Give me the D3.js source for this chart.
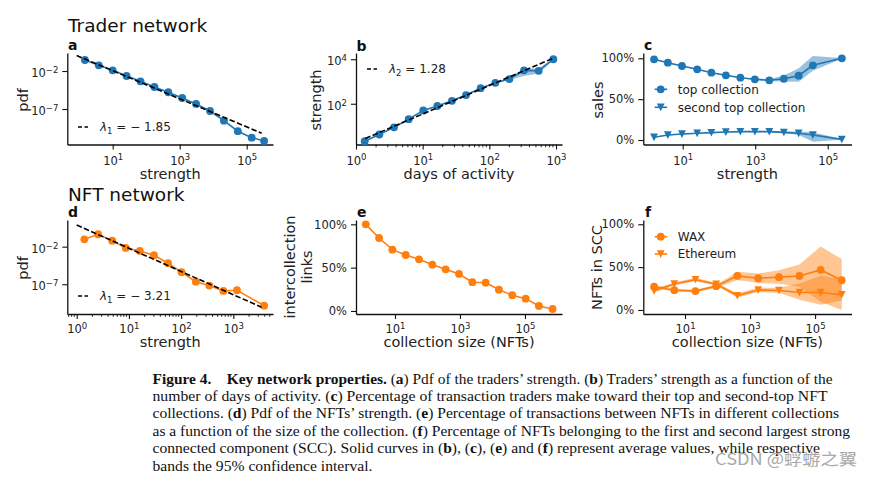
<!DOCTYPE html>
<html><head><meta charset="utf-8">
<script src="https://cdn.jsdelivr.net/npm/d3@7"></script>
<style>
body{margin:0;background:#fff}
svg text{font-family:"DejaVu Sans",sans-serif}
</style></head><body>
<svg id="chart" width="877" height="482"></svg>
<script>
// ---------- data ----------
// (a) trader strength pdf
const traderStrength = [1.48,3.85,10,26,67.6,176,457,1190,3090,8035,20900,54300,141000,331000];
const traderPdf = [0.28,0.056,0.0123,2.2e-3,4.4e-4,7.9e-5,1.6e-5,2.8e-6,4.6e-7,5.5e-8,2.9e-9,1.2e-10,1.7e-11,6.3e-12];
const traderLambda = -1.85, traderFitC = 0.79, traderFitRange = [0.84, 280000];
// (b) strength vs days of activity
const daysActivity = [1.35,2.24,3.72,6.17,10.2,16.6,27.5,44.7,74.1,123,200,331,550,912];
const strengthMean = [2.09,4.17,8.71,20.4,50.1,79.4,135,245,501,871,1290,3160,3020,10000];
const strengthLow  = [1.95,3.95,8.3,19.4,47.5,75.5,128,233,478,830,1200,1750,2300,9300];
const strengthHigh = [2.24,4.4,9.15,21.4,52.7,83.5,142,258,525,912,1400,3700,3900,10700];
const daysLambda = 1.28, daysFitC = 1.82, daysFitRange = [1.38, 912];
// (c) sales share
const salesStrength = [1.62,3.89,9.55,25.1,61.7,155,389,977,2450,6170,15800,38900,245000];
const topSales = [98.8,94.6,90.6,86.5,82.4,79.2,76.3,74.3,73.1,75.0,78.7,91.4,100];
const topLow   = [98.3,94.1,90.1,86.0,81.9,78.7,75.7,73.6,72.0,71.5,71.4,84.8,99.6];
const topHigh  = [99.3,95.1,91.1,87.0,82.9,79.7,76.9,75.0,74.5,79.0,87.7,102.8,100.4];
const secondSales = [3.3,6.1,7.3,8.2,9.0,9.8,10.2,10.2,10.2,9.4,8.2,6.1,0.8];
const secondLow   = [2.8,5.6,6.8,7.7,8.5,9.3,9.7,9.6,9.5,8.4,6.0,-2.0,0.3];
const secondHigh  = [3.8,6.6,7.8,8.7,9.5,10.3,10.7,10.8,10.9,10.4,10.4,9.4,1.3];
// (d) NFT strength pdf
const nftStrength = [1.4,2.57,4.79,8.71,16.2,30.2,56.2,102,191,347,646,1175,3890];
const nftPdf = [0.095,0.45,0.063,6.8e-3,2.7e-3,7.2e-4,6.3e-5,4.0e-6,2.2e-7,6.6e-8,1.3e-8,1.6e-8,1.4e-10];
const nftLambda = -3.21, nftFitSlope = -3.09, nftFitC = 7.6, nftFitRange = [1, 3470];
// (e) intercollection links
const collSize = [1.26,3.24,8.32,21.4,55,141,363,933,2400,6170,15800,40700,105000,269000,708000];
const interLinks = [100,84.2,70.8,64.6,59.6,53.4,48.1,42.7,33.2,32.7,24.6,18.2,14.2,5.8,2.3];
// (f) NFTs in SCC
const sccSize = [1.12,4.68,20.9,91.2,407,1780,7760,33100,148000,661000];
const waxScc  = [27.2,23.1,22.0,27.8,39.8,37.0,38.3,39.7,46.7,34.7];
const waxLow  = [25.5,21.5,20.5,26.0,35.0,31.5,30.5,27.0,9.5,0];
const waxHigh = [29.0,25.0,23.5,29.5,44.5,42.5,46.5,53.0,74.0,59.5];
const ethScc  = [22.3,30.3,35.4,30.1,16.8,23.3,22.8,20.4,20.4,17.8];
const ethLow  = [20.5,28.8,33.5,28.5,14.5,21.0,20.0,12.0,6.0,11.0];
const ethHigh = [24.5,32.0,37.5,31.8,19.5,25.8,26.0,31.0,40.0,36.0];
// ticks
const logTicksA = [10,1e3,1e5];
const logTicksDec = [1,10,100,1000];
const pdfTicks = [1e-2,1e-7];
const strengthTicks = [1e2,1e4];
const pctTicks = [0,50,100];

const BLUE = "#1f77b4", ORANGE = "#ff7f0e";
const svg = d3.select("#chart");

function fmtPow(sel){
  sel.each(function(d){
    const e = Math.round(Math.log10(d));
    const t = d3.select(this); t.text(null);
    t.append("tspan").text("10");
    t.append("tspan").attr("dy","-0.5em").style("font-size","8.5px").text(e<0 ? "\u2212"+(-e) : String(e));
  });
}

function makePanel(o){
  const g = svg.append("g");
  const x = d3.scaleLog().domain(o.xd).range([o.l,o.r]);
  const y = (o.pct ? d3.scaleLinear() : d3.scaleLog()).domain(o.yd).range([o.b,o.t]);
  const xa = d3.axisBottom(x).tickValues(o.xt).tickSize(5).tickSizeOuter(0).tickPadding(o.xpad);
  const gx = g.append("g").attr("transform",`translate(0,${o.b})`).call(xa);
  gx.selectAll(".tick text").call(fmtPow);
  const ya = d3.axisLeft(y).tickValues(o.yt).tickSize(5).tickSizeOuter(0).tickPadding(4);
  if (o.pct) ya.tickFormat(d=>d+"%");
  const gy = g.append("g").attr("transform",`translate(${o.l},0)`).call(ya);
  if (!o.pct) gy.selectAll(".tick text").attr("dy","0.5em").call(fmtPow);
  if (o.minor){
    const mv = x.ticks().filter(v => Math.abs(Math.log10(v)-Math.round(Math.log10(v)))>1e-6);
    gx.selectAll(".mtick").data(mv).join("line").attr("class","mtick")
      .attr("x1",d=>x(d)).attr("x2",d=>x(d)).attr("y1",0).attr("y2",2.8)
      .attr("stroke","#111").attr("stroke-width",0.9);
  }
  [gx,gy].forEach(s=>{
    s.attr("font-family",null).attr("font-size",null);
    s.select(".domain").attr("stroke","#111").attr("stroke-width",1.3);
    s.selectAll(".tick line").attr("stroke","#111").attr("stroke-width",1.1);
    s.selectAll(".tick text").attr("fill","#222").style("font-size","11.5px");
  });
  const plot = g.append("g");
  return {g:plot, x, y};
}

function band(p, xs, lo, hi, color, op){
  p.g.append("path").datum(xs.map((v,i)=>i))
    .attr("d", d3.area().x(i=>p.x(xs[i])).y0(i=>p.y(lo[i])).y1(i=>p.y(hi[i])))
    .attr("fill", color).attr("fill-opacity", op).attr("stroke","none");
}
function series(p, xs, ys, color, marker){
  p.g.append("path").datum(xs.map((v,i)=>i))
    .attr("d", d3.line().x(i=>p.x(xs[i])).y(i=>p.y(ys[i])))
    .attr("fill","none").attr("stroke",color).attr("stroke-width",1.6);
  const m = p.g.selectAll(null).data(xs.map((v,i)=>i));
  if (marker==="tri"){
    m.join("path").attr("d","M-3.9,-3.7L3.9,-3.7L0,3.9Z")
      .attr("transform",i=>`translate(${p.x(xs[i])},${p.y(ys[i])})`).attr("fill",color);
  } else {
    m.join("circle").attr("cx",i=>p.x(xs[i])).attr("cy",i=>p.y(ys[i])).attr("r",3.9).attr("fill",color);
  }
}
function fit(p, range, C, slope){
  p.g.append("path").datum(range)
    .attr("d", d3.line().x(d=>p.x(d)).y(d=>p.y(C*Math.pow(d,slope))))
    .attr("fill","none").attr("stroke","#000").attr("stroke-width",1.6).attr("stroke-dasharray","5.5,2.4");
}
function lamLegend(x0, yc, sub, val){
  svg.append("line").attr("x1",x0).attr("x2",x0+10).attr("y1",yc).attr("y2",yc)
    .attr("stroke","#000").attr("stroke-width",1.6).attr("stroke-dasharray","4,2.5");
  const t = svg.append("text").attr("x",x0+22).attr("y",yc+4.3).style("font-size","12px").attr("fill","#222");
  t.append("tspan").style("font-style","italic").text("\u03bb");
  t.append("tspan").attr("dy","3").style("font-size","8.5px").text(sub);
  t.append("tspan").attr("dy","-3").text(" = " + (val<0 ? "\u2212 " + (-val).toFixed(2) : val.toFixed(2)));
}
function mkLegend(x0, yc, color, marker, label){
  svg.append("line").attr("x1",x0-6).attr("x2",x0+6.5).attr("y1",yc).attr("y2",yc).attr("stroke",color).attr("stroke-width",1.6);
  if (marker==="tri") svg.append("path").attr("d","M-3.9,-3.7L3.9,-3.7L0,3.9Z").attr("transform",`translate(${x0},${yc})`).attr("fill",color);
  else svg.append("circle").attr("cx",x0).attr("cy",yc).attr("r",3.9).attr("fill",color);
  svg.append("text").attr("x",x0+17).attr("y",yc+4.3).style("font-size","12px").attr("fill","#222").text(label);
}
function ylabel(x, y, txt){
  svg.append("text").attr("transform",`translate(${x},${y}) rotate(-90)`).attr("text-anchor","middle")
    .style("font-size","14.5px").attr("fill","#222").text(txt);
}
function xlabel(x, y, txt){
  svg.append("text").attr("x",x).attr("y",y).attr("text-anchor","middle").style("font-size","14.5px").attr("fill","#222").text(txt);
}
function letter(x, y, t){
  svg.append("text").attr("x",x).attr("y",y).style("font-size","14px").style("font-weight","bold").attr("fill","#111").text(t);
}

const TOP = {t:53, b:144.5, xpad:7}, BOT = {t:220, b:314, xpad:6};
const C1 = {l:67.3, r:273}, C2 = {l:356, r:562}, C3 = {l:643.3, r:851.5};

// (a)
const pa = makePanel({...TOP, ...C1, xd:[10**-0.355, 10**5.785], yd:[10**-11.67, 10**0.37], xt:logTicksA, yt:pdfTicks});
series(pa, traderStrength, traderPdf, BLUE, "circle");
fit(pa, traderFitRange, traderFitC, traderLambda);
lamLegend(78, 127, "1", traderLambda);
// (b)
const pb = makePanel({...TOP, ...C2, xd:[1, 10**3.09], yd:[10**0.17, 10**4.28], xt:logTicksDec, yt:strengthTicks, minor:true});
band(pb, daysActivity, strengthLow, strengthHigh, BLUE, 0.45);
series(pb, daysActivity, strengthMean, BLUE, "circle");
fit(pb, daysFitRange, daysFitC, daysLambda);
lamLegend(367, 69, "2", daysLambda);
// (c)
const pc = makePanel({...TOP, ...C3, xd:[10**-0.087, 10**5.656], yd:[-5.5, 106.5], xt:logTicksA, yt:pctTicks, pct:true});
band(pc, salesStrength, topLow, topHigh, BLUE, 0.45);
band(pc, salesStrength, secondLow, secondHigh, BLUE, 0.45);
series(pc, salesStrength, topSales, BLUE, "circle");
series(pc, salesStrength, secondSales, BLUE, "tri");
mkLegend(660.7, 89.3, BLUE, "circle", "top collection");
mkLegend(660.7, 107.3, BLUE, "tri", "second top collection");
// (d)
const pd = makePanel({...BOT, ...C1, xd:[10**-0.18, 10**3.76], yd:[10**-10.96, 10**1.55], xt:logTicksDec, yt:pdfTicks, minor:true});
series(pd, nftStrength, nftPdf, ORANGE, "circle");
fit(pd, nftFitRange, nftFitC, nftFitSlope);
lamLegend(78, 296, "1", nftLambda);
// (e)
const pe = makePanel({...BOT, ...C2, xd:[10**-0.2, 10**6.14], yd:[-3.5, 105], xt:logTicksA, yt:pctTicks, pct:true});
series(pe, collSize, interLinks, ORANGE, "circle");
// (f)
const pf = makePanel({...BOT, ...C3, xd:[10**-0.283, 10**6.12], yd:[-4.7, 105], xt:logTicksA, yt:pctTicks, pct:true});
band(pf, sccSize, waxLow, waxHigh, ORANGE, 0.45);
band(pf, sccSize, ethLow, ethHigh, ORANGE, 0.45);
series(pf, sccSize, waxScc, ORANGE, "circle");
series(pf, sccSize, ethScc, ORANGE, "tri");
mkLegend(660.7, 236.7, ORANGE, "circle", "WAX");
mkLegend(660.7, 254, ORANGE, "tri", "Ethereum");

// labels
ylabel(28, 100, "pdf"); xlabel(170.2, 179.2, "strength");
ylabel(321, 100, "strength"); xlabel(459, 179.2, "days of activity");
ylabel(602.7, 100, "sales"); xlabel(747.4, 179.2, "strength");
ylabel(28, 268, "pdf"); xlabel(170.2, 347, "strength");
ylabel(294.5, 267, "intercollection"); ylabel(311.5, 267, "links"); xlabel(459, 347, "collection size (NFTs)");
ylabel(601.5, 267.5, "NFTs in SCC"); xlabel(747.4, 347, "collection size (NFTs)");
letter(68, 50, "a"); letter(356.5, 50.5, "b"); letter(644, 50, "c");
letter(68, 217.3, "d"); letter(357, 217.3, "e"); letter(645, 217.3, "f");
svg.append("text").attr("x",68).attr("y",32.3).style("font-size","18.5px").attr("fill","#111").text("Trader network");
svg.append("text").attr("x",68).attr("y",200.7).style("font-size","18.5px").attr("fill","#111").text("NFT network");

// caption
const captionLines = [
  [["b","Figure 4.\u2003Key network properties."],["n"," ("],["b","a"],["n",") Pdf of the traders\u2019 strength. ("],["b","b"],["n",") Traders\u2019 strength as a function of the"]],
  [["n","number of days of activity. ("],["b","c"],["n",") Percentage of transaction traders make toward their top and second-top NFT"]],
  [["n","collections. ("],["b","d"],["n",") Pdf of the NFTs\u2019 strength. ("],["b","e"],["n",") Percentage of transactions between NFTs in different collections"]],
  [["n","as a function of the size of the collection. ("],["b","f"],["n",") Percentage of NFTs belonging to the first and second largest strong"]],
  [["n","connected component (SCC). Solid curves in ("],["b","b"],["n","), ("],["b","c"],["n","), ("],["b","e"],["n",") and ("],["b","f"],["n",") represent average values, while respective"]],
  [["n","bands the 95% confidence interval."]]
];
const captionWidths = [680, 675, 686.5, 697.5, 667.5, 220];
captionLines.forEach((parts,i)=>{
  const t = svg.append("text").attr("x",152.5).attr("y",383.5+17.4*i)
    .style("font-family","'Liberation Serif',serif").style("font-size","14.5px").attr("fill","#111")
    .attr("textLength",captionWidths[i]).attr("lengthAdjust","spacingAndGlyphs");
  parts.forEach(([w,s])=>t.append("tspan").style("font-weight",w==="b"?"bold":"normal").text(s));
});
svg.append("text").attr("x",715).attr("y",465).style("font-family","'Noto Sans CJK SC',sans-serif")
  .style("font-size","16px").attr("fill","#a8a8a8").attr("textLength",142).attr("lengthAdjust","spacingAndGlyphs")
  .text("CSDN @蜉蝣之翼");
</script>
</body></html>
